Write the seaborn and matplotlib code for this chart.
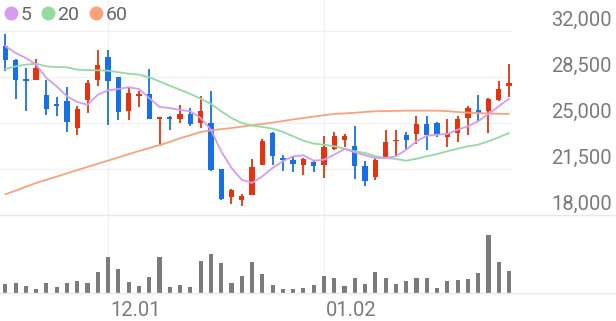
import matplotlib
matplotlib.use("Agg")
import matplotlib.pyplot as plt
import seaborn as sns
import numpy as np
from matplotlib.lines import Line2D
from matplotlib import transforms

# ---------------- data ----------------
opens = [30840, 29820, 28370, 28250, 27150, 26470, 26650, 24620, 26770, 28250,
         30050, 28480, 25890, 27050, 27180, 25330, 25480, 25300, 25710, 25000,
         25000, 21520, 19350, 19160, 19550, 21830, 24240, 22360, 22210, 21830,
         22010, 21830, 23020, 23730, 23230, 21710, 20870, 22340, 23610, 24060,
         24160, 24950, 25000, 23940, 24240, 25380, 25970, 25890, 26770, 27840]
highs = [31800, 29890, 29190, 29890, 28300, 26960, 27740, 26270, 28300, 30530,
         30550, 28480, 27740, 27460, 29110, 25460, 25560, 26390, 26140, 27030,
         27410, 21520, 19980, 19620, 22280, 23780, 24290, 22590, 22470, 22340,
         22210, 24030, 24290, 24160, 24750, 22130, 22340, 24450, 24450, 24290,
         25560, 25510, 25050, 25300, 25510, 26270, 27110, 26900, 28170, 29490]
lows = [28980, 26850, 25940, 28250, 25590, 25560, 24290, 24110, 25760, 27790,
        24870, 25210, 25210, 26200, 25330, 23270, 24490, 25000, 24750, 24620,
        21370, 19160, 18840, 18660, 19550, 21830, 21830, 21330, 21270, 21020,
        21270, 20820, 22920, 23150, 20760, 20180, 20690, 22340, 22510, 22970,
        23400, 22970, 23940, 23150, 23530, 24110, 25080, 24240, 26700, 26980]
closes = [29790, 28300, 28220, 29190, 26070, 26270, 25050, 26090, 28040, 29440,
          28170, 25860, 27280, 27180, 25330, 25460, 25300, 25710, 24950, 25890,
          21450, 19220, 19880, 19420, 21630, 23650, 22510, 22210, 21880, 22280,
          21710, 23150, 23990, 23990, 21710, 20560, 22160, 23530, 23730, 23730,
          24950, 24060, 24060, 24240, 25330, 26140, 25690, 26850, 27590, 28020]
ma5 = [30840, 30330, 29950, 29440, 28420, 27790, 27030, 26600, 26390, 27150,
       27490, 27590, 27720, 27590, 26900, 26220, 26140, 25990, 25890, 25380,
       24490, 22850, 21580, 20690, 20440, 20940, 21580, 22090, 22470, 22540,
       22130, 22210, 22590, 23020, 22770, 22540, 22340, 22340, 22470, 22970,
       23610, 24030, 24110, 24160, 24490, 24750, 25130, 25690, 26270, 26850]
ma20 = [29110, 29310, 29440, 29510, 29310, 29260, 29240, 29060, 29030, 29010,
        28980, 28860, 28750, 28680, 28480, 28170, 27840, 27530, 27210, 26850,
        26450, 25890, 25380, 25000, 24800, 24700, 24570, 24320, 23990, 23650,
        23430, 23350, 23230, 23050, 22850, 22720, 22470, 22340, 22260, 22130,
        22280, 22470, 22640, 22850, 23050, 23230, 23350, 23610, 23910, 24240]
ma60 = [19580, 19850, 20150, 20440, 20680, 20920, 21170, 21420, 21660, 21900,
        22140, 22380, 22630, 22870, 23090, 23320, 23560, 23840, 24070, 24320,
        24440, 24530, 24620, 24720, 24830, 24920, 25030, 25150, 25270, 25380,
        25490, 25590, 25690, 25730, 25780, 25840, 25890, 25910, 25920, 25940,
        25940, 25940, 25940, 25900, 25840, 25790, 25750, 25720, 25700, 25690]
volumes = [90000, 97000, 73000, 37000, 100000, 57000, 97000, 123000, 103000, 213000,
           363000, 237000, 113000, 67000, 157000, 360000, 60000, 77000, 60000, 317000,
           387000, 300000, 100000, 173000, 307000, 195000, 77000, 43000, 43000, 50000,
           83000, 167000, 150000, 73000, 147000, 90000, 213000, 153000, 87000, 120000,
           150000, 150000, 53000, 117000, 130000, 140000, 203000, 580000, 307000, 217000]
price_ticks = [32000, 28500, 25000, 21500, 18000]
price_labels = ["32,000", "28,500", "25,000", "21,500", "18,000"]
date_pos = [10, 31]
date_labels = ["12.01", "01.02"]
ma_labels = ["5", "20", "60"]

# ---------------- style ----------------
RED = "#e5330f"
BLUE = "#1671e8"
C5, C20, C60 = "#d69cf0", "#93dca0", "#fba27c"
GRID = "#f1f1f1"
SEP = "#e8e8e8"
TXT = "#7a7a7a"

sns.set_theme(style="white")
plt.rcParams["font.family"] = ["Roboto", "DejaVu Sans"]

W, H = 616, 321
fig = plt.figure(figsize=(W / 100, H / 100), dpi=100)
ax = fig.add_axes([0, 1 - 215 / H, 512 / W, 215 / H])
axv = fig.add_axes([0, 1 - 293 / H, 512 / W, 78 / H])

o = np.array(opens); c = np.array(closes)
hi = np.array(highs); lo = np.array(lows)
idx = np.arange(len(o))
cols = np.where(c >= o, RED, BLUE)

# candles
ax.vlines(idx, lo, hi, colors=cols, lw=1.3, zorder=2)
body = np.maximum(np.abs(c - o), 60)
ax.bar(idx, body, bottom=np.minimum(o, c), width=0.52, color=cols, zorder=3, linewidth=0)

# moving averages
sns.lineplot(x=idx, y=ma60, ax=ax, color=C60, lw=1.3, zorder=4)
sns.lineplot(x=idx, y=ma20, ax=ax, color=C20, lw=1.3, zorder=4)
sns.lineplot(x=idx, y=ma5, ax=ax, color=C5, lw=1.3, zorder=5)

xmin, xmax = -0.516, 49.29
ax.set_xlim(xmin, xmax)
ax.set_ylim(18000, 32000 + 31 * 3500 / 46)
ax.set_yticks(price_ticks[:-1])
ax.set_xticks(date_pos)
ax.grid(True, color=GRID, lw=1)
ax.tick_params(length=0, labelleft=False, labelbottom=False)
ax.set_xlabel(""); ax.set_ylabel("")
for s in ax.spines.values():
    s.set_visible(False)

# volume
sns.barplot(x=idx, y=volumes, ax=axv, color="#7b7b7b", saturation=1,
            width=0.4, native_scale=True, errorbar=None, linewidth=0, zorder=3)
axv.set_xlim(xmin, xmax)
axv.set_ylim(0, 780000)
axv.set_xticks(date_pos)
axv.set_yticks([])
axv.grid(True, axis="x", color=GRID, lw=1)
axv.tick_params(length=0, labelleft=False, labelbottom=False)
axv.set_xlabel(""); axv.set_ylabel("")
for s in axv.spines.values():
    s.set_visible(False)

# separator lines
for yy in (215, 293):
    fig.add_artist(Line2D([0, 1], [1 - yy / H] * 2, transform=fig.transFigure,
                          color=SEP, lw=1))

# price labels
bt = transforms.blended_transform_factory(ax.transAxes, ax.transData)
bt = transforms.offset_copy(bt, fig=fig, x=0, y=5, units="dots")
for v, lab in zip(price_ticks, price_labels):
    ax.text(612 / 512, v, lab, transform=bt, ha="right", va="baseline",
            fontsize=14.5, color=TXT, clip_on=False)

# date labels
dt = transforms.blended_transform_factory(axv.transData, axv.transAxes)
dt = transforms.offset_copy(dt, fig=fig, x=2, y=-23.5, units="dots")
for p, lab in zip(date_pos, date_labels):
    axv.text(p, 0, lab, transform=dt, ha="left", va="baseline",
             fontsize=14.5, color=TXT, clip_on=False)

# legend
handles = [Line2D([], [], marker="o", ls="", color=cc, markersize=9)
           for cc in (C5, C20, C60)]
ax.legend(handles, ma_labels, loc="upper left", bbox_to_anchor=(0, 1),
          ncol=3, frameon=False, fontsize=14, handlelength=0.5,
          handletextpad=0.25, columnspacing=0.6, borderaxespad=0.3,
          borderpad=0, labelcolor="#666666")

fig.savefig("out.png", dpi=100)
